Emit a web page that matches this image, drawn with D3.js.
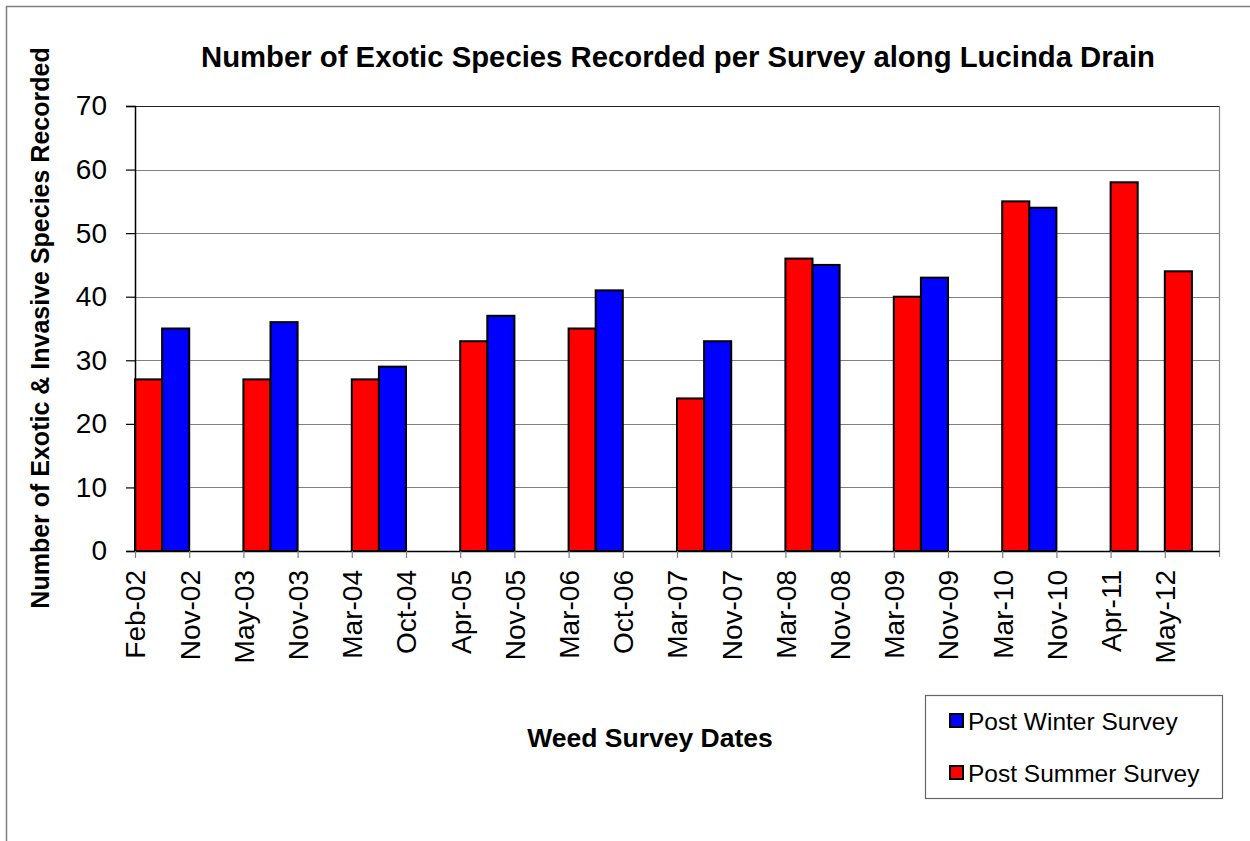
<!DOCTYPE html>
<html>
<head>
<meta charset="utf-8">
<script src="https://cdn.jsdelivr.net/npm/d3@7"></script>
<style>
  html, body { margin: 0; padding: 0; background: #fff; }
  svg { display: block; font-family: "Liberation Sans", Arial, sans-serif; }
</style>
</head>
<body>
<svg id="chart" width="1250" height="841"></svg>
<script>
// Survey dates along the category axis
const categories = ["Feb-02", "Nov-02", "May-03", "Nov-03", "Mar-04", "Oct-04", "Apr-05", "Nov-05",
  "Mar-06", "Oct-06", "Mar-07", "Nov-07", "Mar-08", "Nov-08", "Mar-09", "Nov-09",
  "Mar-10", "Nov-10", "Apr-11", "May-12"];

// Post summer surveys (Feb–May)
const summerDates = ["Feb-02", "May-03", "Mar-04", "Apr-05", "Mar-06", "Mar-07", "Mar-08", "Mar-09", "Mar-10", "Apr-11", "May-12"];
const summerValues = [27, 27, 27, 33, 35, 24, 46, 40, 55, 58, 44];

// Post winter surveys (Oct–Nov)
const winterDates = ["Nov-02", "Nov-03", "Oct-04", "Nov-05", "Oct-06", "Nov-07", "Nov-08", "Nov-09", "Nov-10"];
const winterValues = [35, 36, 29, 37, 41, 33, 45, 43, 54];

const yTicks = [0, 10, 20, 30, 40, 50, 60, 70];

const seriesNames = ["Post Winter Survey", "Post Summer Survey"];
const seriesColors = ["#0000FF", "#FF0000"];

const svg = d3.select("#chart");
const font = '"Liberation Sans", Arial, sans-serif';

// Outer chart frame
svg.append("line").attr("x1", 6).attr("x2", 1250).attr("y1", 6.5).attr("y2", 6.5)
  .attr("stroke", "#808080").attr("stroke-width", 1.5);
svg.append("line").attr("x1", 6.5).attr("x2", 6.5).attr("y1", 6).attr("y2", 841)
  .attr("stroke", "#808080").attr("stroke-width", 1.5);

const plot = { left: 135, right: 1219, top: 106, bottom: 551 };

const x = d3.scaleBand().domain(categories).range([plot.left, plot.right]).paddingInner(0).paddingOuter(0);
const y = d3.scaleLinear().domain([0, 70]).range([plot.bottom, plot.top]);
const half = x.bandwidth() / 2;

// Horizontal gridlines
svg.append("g").selectAll("line").data(yTicks.filter(d => d > 0)).join("line")
  .attr("x1", plot.left).attr("x2", plot.right)
  .attr("y1", d => Math.round(y(d)) + 0.5).attr("y2", d => Math.round(y(d)) + 0.5)
  .attr("stroke", d => d === 70 ? "#222" : "#808080").attr("stroke-width", 1.2);

// Right edge of plot area
svg.append("line").attr("x1", plot.right + 0.5).attr("x2", plot.right + 0.5)
  .attr("y1", plot.top).attr("y2", plot.bottom + 6)
  .attr("stroke", "#808080").attr("stroke-width", 1.2);

// Summer bars start at their date tick; winter bars end at theirs
svg.append("g").selectAll("rect").data(summerDates.map((d, i) => ({ date: d, value: summerValues[i] }))).join("rect")
  .attr("x", d => x(d.date))
  .attr("width", half)
  .attr("y", d => y(d.value))
  .attr("height", d => y(0) - y(d.value))
  .attr("fill", seriesColors[1]).attr("stroke", "#000").attr("stroke-width", 2);

svg.append("g").selectAll("rect").data(winterDates.map((d, i) => ({ date: d, value: winterValues[i] }))).join("rect")
  .attr("x", d => x(d.date) - half)
  .attr("width", half)
  .attr("y", d => y(d.value))
  .attr("height", d => y(0) - y(d.value))
  .attr("fill", seriesColors[0]).attr("stroke", "#000").attr("stroke-width", 2);

// Y axis
const yAxis = svg.append("g").attr("transform", `translate(${plot.left},0)`)
  .call(d3.axisLeft(y).tickValues(yTicks).tickSize(9).tickPadding(19).tickFormat(d3.format("d")));
yAxis.select(".domain").attr("stroke", "#000").attr("stroke-width", 1.5);
yAxis.selectAll(".tick line").attr("stroke", "#000").attr("stroke-width", 1.2);
yAxis.selectAll(".tick text").attr("font-family", font).attr("font-size", 28).attr("fill", "#000");

// X axis: ticks at the left edge of each date slot, labels rotated on the tick
const xAxis = svg.append("g").attr("transform", `translate(0,${plot.bottom})`)
  .call(d3.axisBottom(x).tickSize(7).tickSizeOuter(0));
xAxis.select(".domain").attr("stroke", "#000").attr("stroke-width", 1.5);
xAxis.selectAll(".tick").attr("transform", d => `translate(${x(d) + 0.5},0)`);
xAxis.selectAll(".tick line").attr("stroke", "#808080").attr("stroke-width", 1.2);
xAxis.selectAll(".tick text")
  .attr("font-family", font).attr("font-size", 28).attr("fill", "#000")
  .attr("transform", "rotate(-90)")
  .attr("text-anchor", "end")
  .attr("x", -19).attr("y", 0).attr("dy", "0.35em");

// Titles
svg.append("text").attr("x", 678).attr("y", 67).attr("text-anchor", "middle")
  .attr("font-family", font).attr("font-size", 29.3).attr("font-weight", "bold")
  .text("Number of Exotic Species Recorded per Survey along Lucinda Drain");

svg.append("text").attr("transform", "translate(49,328) rotate(-90)").attr("text-anchor", "middle")
  .attr("font-family", font).attr("font-size", 25).attr("font-weight", "bold")
  .text("Number of Exotic & Invasive Species Recorded");

svg.append("text").attr("x", 650).attr("y", 747).attr("text-anchor", "middle")
  .attr("font-family", font).attr("font-size", 26.5).attr("font-weight", "bold")
  .text("Weed Survey Dates");

// Legend
const legend = svg.append("g");
legend.append("rect").attr("x", 925.5).attr("y", 695.5).attr("width", 297).attr("height", 103)
  .attr("fill", "#fff").attr("stroke", "#666").attr("stroke-width", 1.2);
seriesNames.forEach((name, i) => {
  const ly = 714 + i * 52;
  legend.append("rect").attr("x", 950).attr("y", ly).attr("width", 13).attr("height", 13)
    .attr("fill", seriesColors[i]).attr("stroke", "#000").attr("stroke-width", 2);
  legend.append("text").attr("x", 968).attr("y", ly + 16)
    .attr("font-family", font).attr("font-size", 24.5).attr("fill", "#000").text(name);
});
</script>
</body>
</html>
